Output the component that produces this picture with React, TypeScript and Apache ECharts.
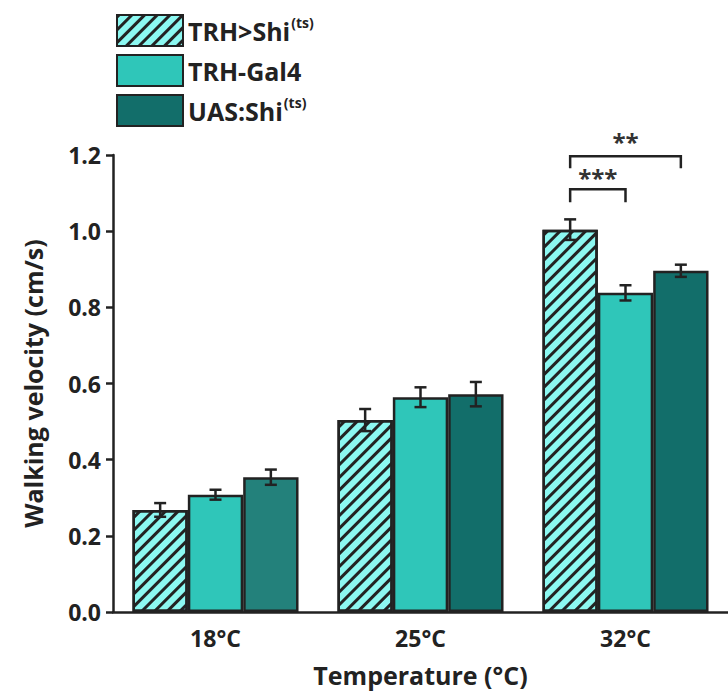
import React, { useEffect, useRef } from "react";
import * as echarts from "echarts";

const categories = ["18°C", "25°C", "32°C"];
const seriesNames = ["TRH>Shi(ts)", "TRH-Gal4", "UAS:Shi(ts)"];
const shiValues = [0.268, 0.504, 1.004];
const shiErrors = [0.018, 0.029, 0.027];
const gal4Values = [0.308, 0.564, 0.838];
const gal4Errors = [0.013, 0.026, 0.02];
const uasValues = [0.354, 0.572, 0.896];
const uasErrors = [0.02, 0.032, 0.016];
const yTicks = [0, 0.2, 0.4, 0.6, 0.8, 1.0, 1.2];
// significance brackets: [category, fromBar, toBar, barY, legY, textY, label]
const brackets: [number, number, number, number, number, number, string][] = [
  [2, 0, 2, 1.197, 1.165, 1.236, "**"],
  [2, 0, 1, 1.11, 1.076, 1.142, "***"],
];

const EDGE = "#222222";
const COLORS = ["#8cf8f1", "#2fc6b9", "#126e6a"];
const UAS18 = "#23817b";
const GAP = 0.19;

function barCenter(api: any, cat: number, bar: number, y: number) {
  const c = api.coord([cat, y]);
  const band = api.size([1, 0])[0];
  const bw = (band * (1 - GAP)) / 3;
  return [c[0] + (bar - 1) * bw, c[1], bw];
}

export default function App() {
  const ref = useRef<HTMLDivElement>(null);
  useEffect(() => {
    if (!ref.current) return;
    const chart = echarts.init(ref.current, null, { renderer: "svg" });
    const font = "'Open Sans', 'Noto Sans', sans-serif";
    const values = [shiValues, gal4Values, uasValues];
    const errors = [shiErrors, gal4Errors, uasErrors];
    const errData: number[][] = [];
    values.forEach((vals, s) =>
      vals.forEach((v, i) => errData.push([i, v, errors[s][i], s]))
    );
    const baseItem = { borderColor: EDGE, borderWidth: 2.5 };
    chart.setOption({
      animation: false,
      grid: { left: 113, top: 155, bottom: 82, right: -1, containLabel: false },
      legend: {
        orient: "vertical",
        left: 111,
        top: 9,
        icon: "rect",
        itemWidth: 66,
        itemHeight: 31,
        itemGap: 7,
        data: seriesNames,
        selectedMode: false,
        formatter: (name: string) =>
          name.endsWith("(ts)")
            ? `{a|${name.replace("(ts)", "")}}{s|(ts)}`
            : `{a|${name}}`,
        textStyle: {
          rich: {
            a: { fontSize: 25, lineHeight: 31, fontWeight: "bold", fontFamily: font, color: "#222" },
            s: {
              fontSize: 14,
              lineHeight: 31,
              fontWeight: "bold",
              fontFamily: font,
              color: "#222",
              verticalAlign: "top",
              padding: [0, 0, 12, 1],
            },
          },
        },
      },
      xAxis: {
        type: "category",
        data: categories,
        name: "Temperature (°C)",
        nameLocation: "middle",
        nameGap: 50,
        nameTextStyle: { fontSize: 25, fontWeight: "bold", fontFamily: font, color: "#222" },
        axisLine: { lineStyle: { color: EDGE, width: 2.5 } },
        axisTick: { show: false },
        axisLabel: {
          fontSize: 23,
          fontWeight: "bold",
          fontFamily: font,
          color: "#222",
          margin: 14,
        },
      },
      yAxis: {
        type: "value",
        min: 0,
        max: 1.2,
        interval: 0.2,
        name: "Walking velocity (cm/s)",
        nameLocation: "middle",
        nameGap: 68,
        nameTextStyle: { fontSize: 25, fontWeight: "bold", fontFamily: font, color: "#222" },
        splitLine: { show: false },
        axisLine: { show: true, lineStyle: { color: EDGE, width: 2.5 } },
        axisTick: { show: true, length: 7, lineStyle: { color: EDGE, width: 2.5 } },
        axisLabel: {
          fontSize: 23,
          fontWeight: "bold",
          fontFamily: font,
          color: "#222",
          margin: 12,
          formatter: (v: number) => (yTicks.includes(+v.toFixed(1)) ? v.toFixed(1) : ""),
        },
      },
      series: [
        {
          name: seriesNames[0],
          type: "bar",
          data: shiValues,
          barGap: 0,
          barCategoryGap: GAP * 100 + "%",
          itemStyle: {
            ...baseItem,
            color: COLORS[0],
            decal: {
              symbol: "rect",
              dashArrayX: [1, 0],
              dashArrayY: [2.8, 5.4],
              rotation: -Math.PI / 4,
              color: EDGE,
            },
          },
        },
        {
          name: seriesNames[1],
          type: "bar",
          data: gal4Values,
          barGap: 0,
          barCategoryGap: GAP * 100 + "%",
          itemStyle: { ...baseItem, color: COLORS[1] },
        },
        {
          name: seriesNames[2],
          type: "bar",
          data: uasValues.map((v, i) =>
            i === 0 ? { value: v, itemStyle: { color: UAS18 } } : v
          ),
          barGap: 0,
          barCategoryGap: GAP * 100 + "%",
          itemStyle: { ...baseItem, color: COLORS[2] },
        },
        {
          type: "custom",
          data: errData,
          z: 10,
          silent: true,
          renderItem: (params: any, api: any) => {
            const cat = api.value(0);
            const v = api.value(1);
            const e = api.value(2);
            const s = api.value(3);
            const [x, yTop] = barCenter(api, cat, s, v + e);
            const [, yBot] = barCenter(api, cat, s, v - e);
            const cap = 6;
            const st = { stroke: EDGE, lineWidth: 2.5 };
            return {
              type: "group",
              children: [
                { type: "line", shape: { x1: x, y1: yTop, x2: x, y2: yBot }, style: st },
                { type: "line", shape: { x1: x - cap, y1: yTop, x2: x + cap, y2: yTop }, style: st },
                { type: "line", shape: { x1: x - cap, y1: yBot, x2: x + cap, y2: yBot }, style: st },
              ],
            };
          },
        },
        {
          type: "custom",
          data: brackets.map((b) => [b[0], b[1], b[2], b[3], b[4], b[5]]),
          z: 10,
          silent: true,
          clip: false,
          renderItem: (params: any, api: any) => {
            const cat = api.value(0);
            const b1 = api.value(1);
            const b2 = api.value(2);
            const [x1, yb] = barCenter(api, cat, b1, api.value(3));
            const [x2, yl] = barCenter(api, cat, b2, api.value(4));
            const [, yt] = barCenter(api, cat, b1, api.value(5));
            const label = brackets[params.dataIndex][6];
            const st = { stroke: EDGE, lineWidth: 2.5, fill: null };
            return {
              type: "group",
              children: [
                {
                  type: "polyline",
                  shape: { points: [[x1, yl], [x1, yb], [x2, yb], [x2, yl]] },
                  style: st,
                },
                {
                  type: "text",
                  style: {
                    text: label,
                    x: (x1 + x2) / 2,
                    y: yt,
                    align: "center",
                    verticalAlign: "middle",
                    fontSize: 24,
                    fontWeight: "bold",
                    fontFamily: font,
                    fill: "#333",
                  },
                },
              ],
            };
          },
        },
      ],
    });
    return () => chart.dispose();
  }, []);
  return <div ref={ref} style={{ width: 728, height: 694, position: "absolute", left: 0, top: 0 }} />;
}
